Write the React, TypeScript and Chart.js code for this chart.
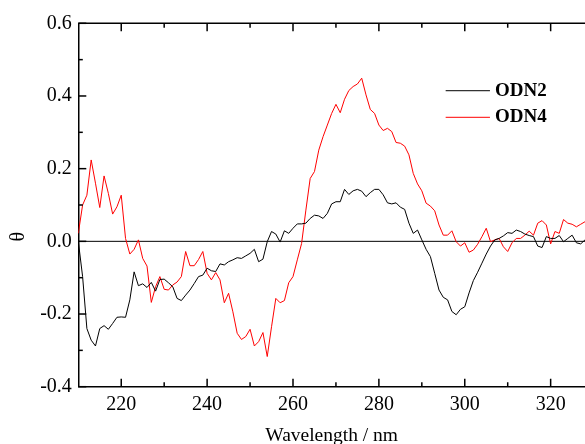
import { useEffect, useRef } from 'react';
import { Chart, registerables } from 'chart.js';

Chart.register(...registerables);

const wavelengths = [
  210, 211, 212, 213, 214, 215, 216, 217, 218, 219,
  220, 221, 222, 223, 224, 225, 226, 227, 228, 229,
  230, 231, 232, 233, 234, 235, 236, 237, 238, 239,
  240, 241, 242, 243, 244, 245, 246, 247, 248, 249,
  250, 251, 252, 253, 254, 255, 256, 257, 258, 259,
  260, 261, 262, 263, 264, 265, 266, 267, 268, 269,
  270, 271, 272, 273, 274, 275, 276, 277, 278, 279,
  280, 281, 282, 283, 284, 285, 286, 287, 288, 289,
  290, 291, 292, 293, 294, 295, 296, 297, 298, 299,
  300, 301, 302, 303, 304, 305, 306, 307, 308, 309,
  310, 311, 312, 313, 314, 315, 316, 317, 318, 319,
  320, 321, 322, 323, 324, 325, 326, 327, 328,
];

const odn2 = [
  0.000, -0.097, -0.240, -0.272, -0.288, -0.240, -0.232, -0.242, -0.226, -0.209,
  -0.208, -0.209, -0.161, -0.084, -0.122, -0.117, -0.127, -0.113, -0.137, -0.105,
  -0.104, -0.114, -0.125, -0.157, -0.163, -0.148, -0.134, -0.116, -0.097, -0.093,
  -0.074, -0.081, -0.083, -0.062, -0.065, -0.056, -0.051, -0.045, -0.047, -0.040,
  -0.033, -0.022, -0.056, -0.049, -0.001, 0.027, 0.020, -0.002, 0.029, 0.022,
  0.036, 0.048, 0.048, 0.050, 0.063, 0.072, 0.070, 0.063, 0.077, 0.103,
  0.109, 0.109, 0.143, 0.129, 0.139, 0.143, 0.138, 0.123, 0.134, 0.143,
  0.143, 0.128, 0.106, 0.103, 0.106, 0.094, 0.088, 0.050, 0.022, 0.031,
  0.004, -0.022, -0.042, -0.088, -0.134, -0.154, -0.161, -0.193, -0.202, -0.187,
  -0.180, -0.142, -0.108, -0.085, -0.060, -0.035, -0.013, 0.004, 0.008, 0.015,
  0.024, 0.022, 0.031, 0.027, 0.020, 0.016, 0.013, -0.013, -0.017, 0.013,
  0.008, 0.008, 0.016, -0.001, 0.008, 0.017, -0.004, -0.007, 0.004,
];

const odn4 = [
  0.022, 0.100, 0.127, 0.224, 0.160, 0.093, 0.180, 0.132, 0.075, 0.095,
  0.127, 0.008, -0.035, -0.022, 0.004, -0.047, -0.068, -0.168, -0.125, -0.097,
  -0.132, -0.134, -0.120, -0.112, -0.097, -0.028, -0.067, -0.067, -0.050, -0.028,
  -0.088, -0.106, -0.086, -0.106, -0.169, -0.143, -0.194, -0.253, -0.270, -0.262,
  -0.242, -0.288, -0.276, -0.251, -0.317, -0.235, -0.157, -0.169, -0.163, -0.114,
  -0.097, -0.051, -0.006, 0.086, 0.173, 0.192, 0.251, 0.288, 0.320, 0.352,
  0.377, 0.354, 0.391, 0.415, 0.426, 0.433, 0.449, 0.403, 0.363, 0.352,
  0.320, 0.305, 0.311, 0.302, 0.272, 0.270, 0.262, 0.238, 0.187, 0.158,
  0.139, 0.105, 0.097, 0.084, 0.045, 0.017, 0.017, 0.029, -0.001, -0.013,
  -0.004, -0.030, -0.024, -0.008, 0.013, 0.036, -0.001, 0.004, 0.008, -0.015,
  -0.028, -0.004, 0.008, 0.008, 0.017, 0.028, 0.017, 0.050, 0.057, 0.045,
  -0.007, 0.027, 0.022, 0.060, 0.050, 0.047, 0.040, 0.047, 0.054,
];

const seriesLabels = ['ODN2', 'ODN4'];
const xTicks = [220, 240, 260, 280, 300, 320];
const xMinorTicks = [230, 250, 270, 290, 310];
const yTicks = [-0.4, -0.2, 0, 0.2, 0.4, 0.6];
const yMinorTicks = [-0.3, -0.1, 0.1, 0.3, 0.5];
const xTitle = 'Wavelength / nm';
const yTitle = 'θ';

const FONT = '"Liberation Serif", "Times New Roman", serif';
const W = 585;
const H = 460;
const AREA_TOP = 23.3;
const AREA_BOTTOM = 386.7;
const AREA_LEFT = 78.3;

const decorPlugin = {
  id: 'decor',
  beforeDatasetsDraw(chart: any) {
    const { ctx, chartArea, scales } = chart;
    const y0 = scales.y.getPixelForValue(0);
    ctx.save();
    ctx.strokeStyle = '#000';
    ctx.lineWidth = 1;
    ctx.beginPath();
    ctx.moveTo(chartArea.left, y0);
    ctx.lineTo(chartArea.right, y0);
    ctx.stroke();
    ctx.restore();
  },
  afterDraw(chart: any) {
    const { ctx, chartArea, scales } = chart;
    const { left, right, top, bottom } = chartArea;
    const xs = scales.x;
    const ys = scales.y;
    ctx.save();
    ctx.strokeStyle = '#000';
    ctx.lineWidth = 1.5;
    // top frame line
    ctx.beginPath();
    ctx.moveTo(left, top);
    ctx.lineTo(right, top);
    ctx.stroke();
    const drawX = (vals: number[], len: number) => {
      vals.forEach((v) => {
        const px = xs.getPixelForValue(v);
        ctx.beginPath();
        ctx.moveTo(px, bottom);
        ctx.lineTo(px, bottom - len);
        ctx.moveTo(px, top);
        ctx.lineTo(px, top + len);
        ctx.stroke();
      });
    };
    const drawY = (vals: number[], len: number) => {
      vals.forEach((v) => {
        const py = ys.getPixelForValue(v);
        ctx.beginPath();
        ctx.moveTo(left, py);
        ctx.lineTo(left + len, py);
        ctx.stroke();
      });
    };
    drawX(xTicks, 8);
    drawX(xMinorTicks, 4.5);
    drawY(yTicks, 8);
    drawY(yMinorTicks, 4.5);

    // y axis title
    ctx.fillStyle = '#000';
    ctx.font = `20px ${FONT}`;
    ctx.textAlign = 'center';
    ctx.textBaseline = 'middle';
    ctx.translate(19.2, 236.7);
    ctx.rotate(-Math.PI / 2);
    ctx.fillText(yTitle, 0, 0);
    ctx.restore();

    // legend
    ctx.save();
    const lx0 = left + (right - left) * 0.725;
    const lx1 = lx0 + 44.3;
    const ly0 = top + (bottom - top) * 0.1855;
    const dy = 26.6;
    chart.data.datasets.forEach((ds: any, i: number) => {
      const yy = ly0 + i * dy;
      ctx.strokeStyle = ds.borderColor;
      ctx.lineWidth = 1;
      ctx.beginPath();
      ctx.moveTo(lx0, yy);
      ctx.lineTo(lx1, yy);
      ctx.stroke();
      ctx.fillStyle = '#000';
      ctx.font = `bold 19px ${FONT}`;
      ctx.textAlign = 'left';
      ctx.textBaseline = 'middle';
      ctx.fillText(ds.label, lx1 + 5, yy);
    });
    ctx.restore();
  },
};

export default function App() {
  const ref = useRef<HTMLCanvasElement | null>(null);

  useEffect(() => {
    if (!ref.current) return;
    const chart = new Chart(ref.current, {
      type: 'line',
      data: {
        datasets: [
          {
            label: seriesLabels[0],
            data: wavelengths.map((x, i) => ({ x, y: odn2[i] })),
            borderColor: '#000000',
            borderWidth: 1,
            pointRadius: 0,
            tension: 0,
          },
          {
            label: seriesLabels[1],
            data: wavelengths.map((x, i) => ({ x, y: odn4[i] })),
            borderColor: '#ff0000',
            borderWidth: 1,
            pointRadius: 0,
            tension: 0,
          },
        ],
      },
      options: {
        responsive: false,
        animation: false,
        devicePixelRatio: 1,
        layout: { padding: { left: 0, top: AREA_TOP, right: 0, bottom: 0 } },
        plugins: {
          legend: { display: false },
          tooltip: { enabled: false },
          title: { display: false },
        },
        scales: {
          x: {
            type: 'linear',
            min: 210,
            max: 328,
            afterBuildTicks: (s: any) => {
              s.ticks = xTicks.map((v) => ({ value: v }));
            },
            afterFit: (s: any) => {
              s.height = H - AREA_BOTTOM;
            },
            grid: { display: false, drawTicks: false },
            border: { display: true, color: '#000', width: 1.5 },
            ticks: {
              padding: 6,
              color: '#000',
              autoSkip: false,
              maxRotation: 0,
              font: { family: FONT, size: 20 },
              callback: (v: any) => String(v),
            },
            title: {
              display: true,
              text: xTitle,
              color: '#000',
              font: { family: FONT, size: 19.5 },
              padding: { top: 0, bottom: 12 },
            },
          },
          y: {
            type: 'linear',
            min: -0.4,
            max: 0.6,
            afterBuildTicks: (s: any) => {
              s.ticks = yTicks.map((v) => ({ value: v }));
            },
            afterFit: (s: any) => {
              s.width = AREA_LEFT;
            },
            grid: { display: false, drawTicks: false },
            border: { display: true, color: '#000', width: 1.5 },
            ticks: {
              padding: 6.5,
              color: '#000',
              autoSkip: false,
              font: { family: FONT, size: 20 },
              callback: (v: any) => (Math.abs(v) < 1e-9 ? '0.0' : Number(v).toFixed(1)),
            },
            title: { display: false },
          },
        },
      },
      plugins: [decorPlugin],
    });
    return () => chart.destroy();
  }, []);

  return (
    <div
      style={{
        position: 'fixed',
        left: 0,
        top: 0,
        width: W,
        height: 444,
        overflow: 'hidden',
        background: '#fff',
      }}
    >
      <canvas ref={ref} width={W} height={H} style={{ display: 'block' }} />
    </div>
  );
}
